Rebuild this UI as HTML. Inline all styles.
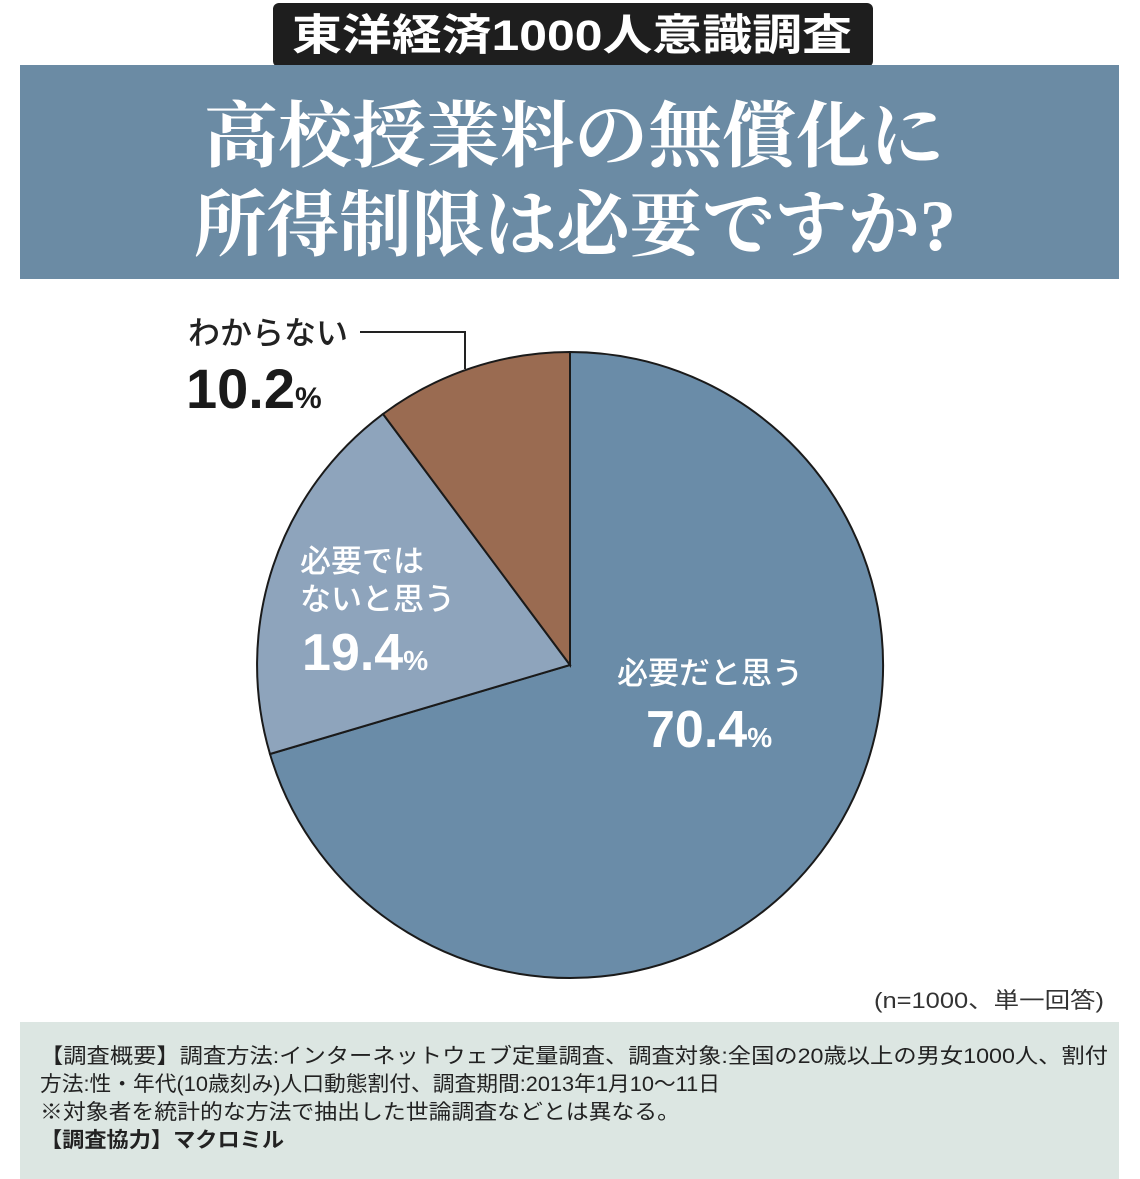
<!DOCTYPE html>
<html><head><meta charset="utf-8"><style>
html,body{margin:0;padding:0;background:#fff;}
</style></head><body>
<svg width="1140" height="1179" viewBox="0 0 1140 1179" xmlns="http://www.w3.org/2000/svg" style="display:block">
<rect x="273" y="3" width="600" height="64" rx="6" fill="#1e1e1e"/>
<text x="572" y="50" text-anchor="middle" font-family="Liberation Sans, Noto Sans CJK JP, sans-serif" font-weight="bold" font-size="43" fill="#fff" textLength="560" lengthAdjust="spacingAndGlyphs">東洋経済1000人意識調査</text>
<rect x="20" y="65" width="1099" height="214" fill="#6b8ba4"/>
<text x="574" y="161" text-anchor="middle" font-family="Liberation Serif, Noto Serif CJK SC, serif" font-weight="bold" font-size="72" fill="#fff" textLength="740" lengthAdjust="spacingAndGlyphs">高校授業料の無償化に</text>
<text x="575" y="250" text-anchor="middle" font-family="Liberation Serif, Noto Serif CJK SC, serif" font-weight="bold" font-size="72" fill="#fff" textLength="762" lengthAdjust="spacingAndGlyphs">所得制限は必要ですか?</text>
<g stroke="#1a1a1a" stroke-width="2">
<path d="M570,665 L570,352 A313,313 0 1 1 270,754 Z" fill="#6a8ca8"/>
<path d="M570,665 L270,754 A313,313 0 0 1 383,414 Z" fill="#8ea4bc"/>
<path d="M570,665 L383,414 A313,313 0 0 1 570,352 Z" fill="#9a6b51"/>
</g>
<polyline points="360,332 465,332 465,369" fill="none" stroke="#222" stroke-width="2"/>
<g font-family="Liberation Sans, Noto Sans CJK JP, sans-serif">
<text x="188" y="344" font-size="32" font-weight="500" fill="#222">わからない</text>
<text x="186" y="408" font-size="56" font-weight="bold" fill="#1a1a1a">10.2<tspan font-size="30">%</tspan></text>
<text x="300" y="572" font-size="31" font-weight="500" fill="#fff">必要では</text>
<text x="300" y="610" font-size="31" font-weight="500" fill="#fff">ないと思う</text>
<text x="302" y="670" font-size="52" font-weight="bold" fill="#fff">19.4<tspan font-size="28">%</tspan></text>
<text x="617" y="684" font-size="31" font-weight="500" fill="#fff">必要だと思う</text>
<text x="646" y="747" font-size="52" font-weight="bold" fill="#fff">70.4<tspan font-size="28">%</tspan></text>
<text x="1104" y="1008" text-anchor="end" font-size="22" fill="#333" textLength="230" lengthAdjust="spacingAndGlyphs">(n=1000、単一回答)</text>
</g>
<rect x="20" y="1022" width="1099" height="157" fill="#dce6e2"/>
<g font-family="Liberation Sans, Noto Sans CJK JP, sans-serif" font-size="21" fill="#222">
<text x="40" y="1063" textLength="1068" lengthAdjust="spacingAndGlyphs">【調査概要】調査方法:インターネットウェブ定量調査、調査対象:全国の20歳以上の男女1000人、割付</text>
<text x="40" y="1091" textLength="680" lengthAdjust="spacingAndGlyphs">方法:性・年代(10歳刻み)人口動態割付、調査期間:2013年1月10〜11日</text>
<text x="40" y="1119" textLength="640" lengthAdjust="spacingAndGlyphs">※対象者を統計的な方法で抽出した世論調査などとは異なる。</text>
<text x="40" y="1147" font-weight="bold" textLength="244" lengthAdjust="spacingAndGlyphs">【調査協力】マクロミル</text>
</g>
</svg>
</body></html>
